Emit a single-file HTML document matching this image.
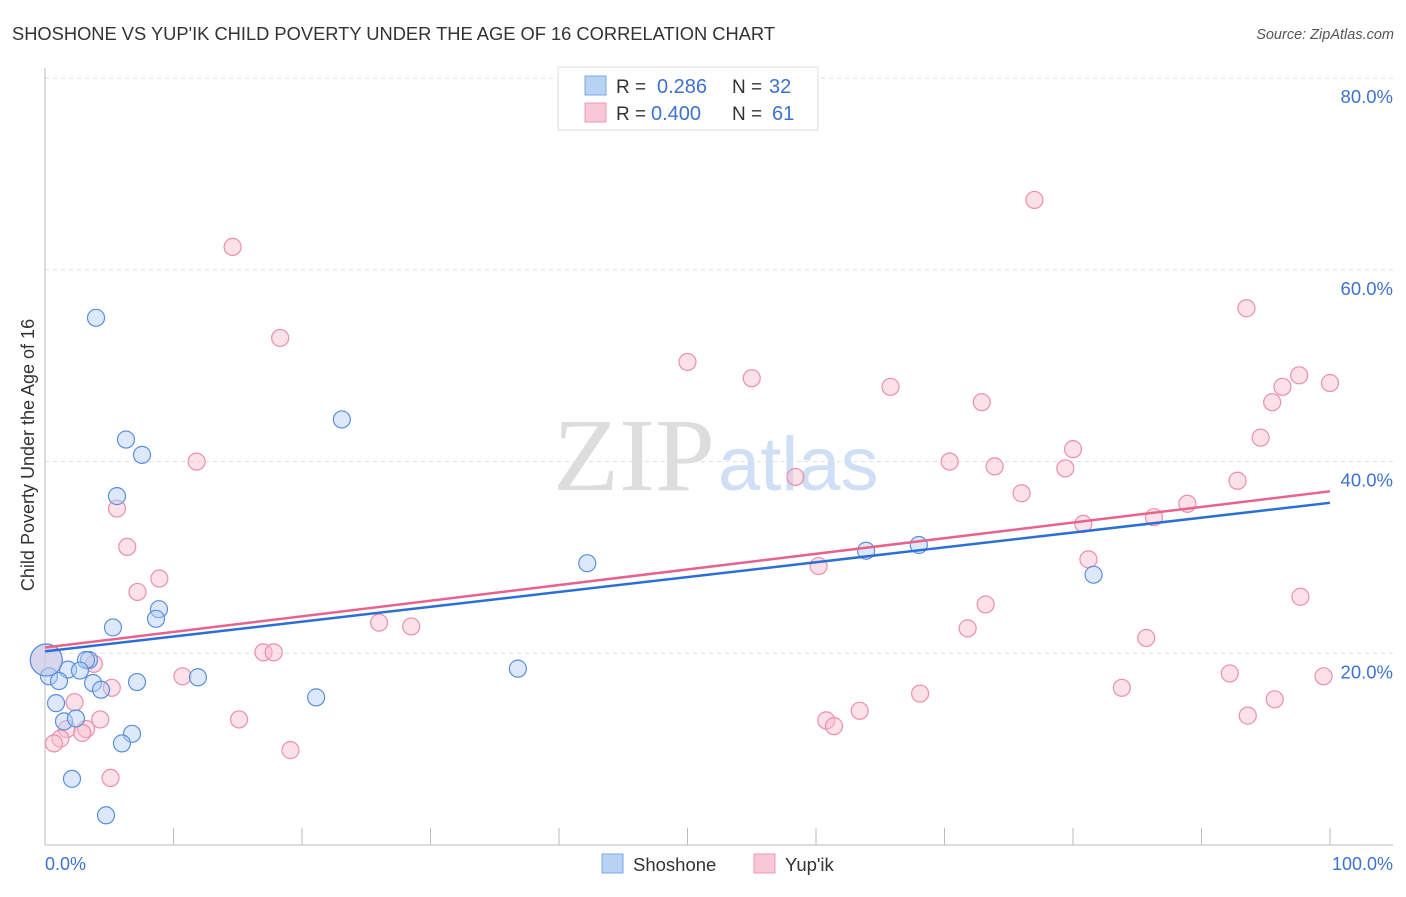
<!DOCTYPE html>
<html><head><meta charset="utf-8"><style>
body{margin:0;background:#fff;font-family:"Liberation Sans",sans-serif}
svg text{font-family:"Liberation Sans",sans-serif}
</style></head><body>
<svg id="c" width="1406" height="892">
<text x="12" y="40" font-size="18.5" fill="#333" textLength="763" lengthAdjust="spacingAndGlyphs">SHOSHONE VS YUP'IK CHILD POVERTY UNDER THE AGE OF 16 CORRELATION CHART</text>
<text x="1394" y="39" font-size="14.5" fill="#555" font-style="italic" text-anchor="end">Source: ZipAtlas.com</text>
<text x="553" y="490" font-size="104" fill="#ddd" textLength="162" lengthAdjust="spacingAndGlyphs" style="font-family:'Liberation Serif',serif">ZIP</text>
<text x="718" y="490" font-size="76" fill="#cfdff5">atlas</text>
<g id="grid"></g><g id="marks"></g>
<text transform="translate(34,455) rotate(-90)" font-size="18" fill="#333" text-anchor="middle">Child Poverty Under the Age of 16</text>
<text x="45" y="870" font-size="18" fill="#3d72d0">0.0%</text>
<text x="1393" y="870" font-size="18" fill="#3d72d0" text-anchor="end">100.0%</text>
<g>
<rect x="558" y="67" width="260" height="63" fill="#fff" stroke="#ddd"/>
<rect x="585" y="76" width="21" height="19" fill="#b9d3f5" stroke="#7aa7e6"/>
<rect x="585" y="103" width="21" height="19" fill="#f9c8d6" stroke="#ee9ab3"/>
<text x="616" y="93" font-size="19" fill="#333">R = </text><text x="657" y="93" font-size="20" fill="#3d72d0">0.286</text>
<text x="732" y="93" font-size="19" fill="#333">N = </text><text x="769" y="93" font-size="20" fill="#3d72d0">32</text>
<text x="616" y="120" font-size="19" fill="#333">R = </text><text x="651" y="120" font-size="20" fill="#3d72d0">0.400</text>
<text x="732" y="120" font-size="19" fill="#333">N = </text><text x="772" y="120" font-size="20" fill="#3d72d0">61</text>
</g>
<g>
<rect x="602" y="854" width="21" height="19" fill="#b9d3f5" stroke="#7aa7e6"/>
<text x="633" y="871" font-size="18.5" fill="#333">Shoshone</text>
<rect x="754" y="854" width="21" height="19" fill="#f9c8d6" stroke="#ee9ab3"/>
<text x="785" y="871" font-size="18.5" fill="#333">Yup'ik</text>
</g>
</svg>
<script>
const yTicks=[20,40,60,80];
const xTickCount=10;
const shoX=[3.97,6.30,7.55,5.60,23.1,42.2,63.9,68.0,81.6,8.87,8.64,5.29,3.42,3.19,1.79,2.72,0.31,1.09,3.74,4.36,7.16,11.9,21.1,36.8,0.86,1.48,2.41,6.77,5.99,2.10,4.75,0.1];
const shoY=[55.0,42.3,40.7,36.4,44.4,29.4,30.7,31.3,28.2,24.6,23.6,22.7,19.3,19.3,18.3,18.2,17.6,17.1,16.9,16.2,17.0,17.5,15.4,18.4,14.8,12.9,13.2,11.6,10.6,6.9,3.1,19.3];
const yupX=[14.6,18.3,50.0,55.0,65.8,72.9,77.0,93.5,97.6,96.3,95.5,100,94.6,80.0,79.4,70.4,73.9,58.4,11.8,5.6,6.4,8.9,7.2,76.0,92.8,88.9,86.3,80.8,81.2,60.2,97.7,73.2,71.8,26.0,28.5,85.7,17.0,17.8,10.7,3.8,5.2,68.1,83.8,92.2,99.5,15.1,4.3,2.3,1.7,3.2,2.9,1.2,0.7,63.4,60.8,61.4,95.7,93.6,19.1,5.1,0.1];
const yupY=[62.4,52.9,50.4,48.7,47.8,46.2,67.3,56.0,49.0,47.8,46.2,48.2,42.5,41.3,39.3,40.0,39.5,38.4,40.0,35.1,31.1,27.8,26.4,36.7,38.0,35.6,34.2,33.5,29.8,29.1,25.9,25.1,22.6,23.2,22.8,21.6,20.1,20.1,17.6,18.9,16.4,15.8,16.4,17.9,17.6,13.1,13.1,14.9,12.1,12.1,11.7,11.1,10.6,14.0,13.0,12.4,15.2,13.5,9.9,7.0,19.3];
const shoLine=[20.2,35.7];
const yupLine=[20.6,36.9];
const NS="http://www.w3.org/2000/svg";
const X=v=>45+v*12.85, Y=v=>845-v*9.585;
const grid=document.getElementById('grid'), marks=document.getElementById('marks');
function mk(p,tag,a){const e=document.createElementNS(NS,tag);for(const k in a)e.setAttribute(k,a[k]);p.appendChild(e);return e;}
yTicks.forEach(t=>{
 const l=mk(grid,'line',{x1:45,x2:1393,y1:Y(t),y2:Y(t),stroke:'#ddd','stroke-dasharray':'4,4'});
 
 
 const tx=mk(grid,'text',{x:1393,y:Y(t)+25,'font-size':18.5,fill:'#3d72d0','text-anchor':'end'});
 tx.textContent=t.toFixed(1)+'%';
 
 
});
for(let i=0;i<=xTickCount;i++){
 const l=mk(grid,'line',{x1:X(i*10),x2:X(i*10),y1:828,y2:845,stroke:'#bbb'});
 
 
}
let a=mk(grid,'line',{x1:45,x2:1393,y1:845,y2:845,stroke:'#bbb'});


a=mk(grid,'line',{x1:45,x2:45,y1:68,y2:845,stroke:'#bbb'});


function pts(xs,ys,fill,stroke,name){
 xs.forEach((x,i)=>{
  const big=(x<0.5&&Math.abs(ys[i]-19.3)<0.2);
  const c=mk(marks,'circle',{cx:X(x),cy:Y(ys[i]),r:big?16:8.5,fill:fill,'fill-opacity':big?0.5:0.45,stroke:stroke,'stroke-width':1.2});
  
  
 });
}
pts(yupX,yupY,'#f8bccd','#ec8fab','yupik-point');
pts(shoX,shoY,'#b3cff4','#5a8fdc','shoshone-point');
let ln=mk(marks,'line',{x1:X(0),y1:Y(shoLine[0]),x2:X(100),y2:Y(shoLine[1]),stroke:'#2b6fd6','stroke-width':2.5});


ln=mk(marks,'line',{x1:X(0),y1:Y(yupLine[0]),x2:X(100),y2:Y(yupLine[1]),stroke:'#e8628e','stroke-width':2.5});


</script>
</body></html>
